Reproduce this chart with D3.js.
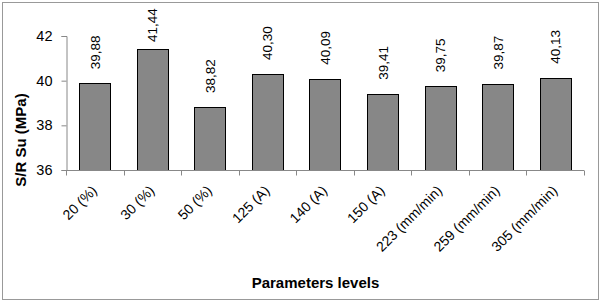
<!DOCTYPE html>
<html>
<head>
<meta charset="utf-8">
<script src="https://cdn.jsdelivr.net/npm/d3@7"></script>
<style>
  body { margin: 0; background: #fff; }
  text { font-family: Arial, "Liberation Sans", sans-serif; }
</style>
</head>
<body>
<script>
// data --------------------------------------------------------------
const levels = ["20 (%)", "30 (%)", "50 (%)", "125 (A)", "140 (A)", "150 (A)",
                "223 (mm/min)", "259 (mm/min)", "305 (mm/min)"];
const snValues = [39.88, 41.44, 38.82, 40.30, 40.09, 39.41, 39.75, 39.87, 40.13];
const yTicks = [36, 38, 40, 42];

const width = 602,
      height = 303,
      margin = { top: 36, right: 18, bottom: 133, left: 66 },
      barColor = "#878787";

const fmt = v => d3.format(".2f")(v).replace(".", ",");

const svg = d3.select("body")
  .append("svg")
  .attr("width", width)
  .attr("height", height);

// outer frame
svg.append("rect")
  .attr("x", 2.5).attr("y", 2.5)
  .attr("width", 596).attr("height", 297)
  .attr("fill", "#fff")
  .attr("stroke", "#999")
  .attr("stroke-width", 1);

const x = d3.scaleBand()
  .domain(levels)
  .range([margin.left, width - margin.right])
  .paddingInner(0.46)
  .paddingOuter(0.23);

const y = d3.scaleLinear()
  .domain([36, 42])
  .range([height - margin.bottom, margin.top]);

// bars
svg.append("g")
  .selectAll("rect")
  .data(snValues)
  .enter()
  .append("rect")
  .attr("x", (d, i) => Math.round(x(levels[i])) + 0.5)
  .attr("y", d => Math.round(y(d)) + 0.5)
  .attr("width", Math.round(x.bandwidth()))
  .attr("height", d => Math.round(y(36)) - Math.round(y(d)))
  .attr("fill", barColor)
  .attr("stroke", "#000")
  .attr("stroke-width", 1);

// value labels
svg.append("g")
  .selectAll("text")
  .data(snValues)
  .enter()
  .append("text")
  .attr("transform", (d, i) => {
    const cx = x(levels[i]) + x.bandwidth() / 2;
    const ty = Math.max(y(d) - 14, 42);
    return `translate(${cx + 5},${ty}) rotate(-90)`;
  })
  .attr("font-size", 13.5)
  .attr("fill", "#000")
  .text(d => fmt(d));

// y axis
const yAxis = svg.append("g")
  .attr("transform", `translate(${margin.left + 0.5},0)`)
  .call(d3.axisLeft(y).tickValues(yTicks).tickSize(5).tickPadding(9).tickFormat(d3.format("d")));
yAxis.selectAll("path, line").attr("stroke", "#888");
yAxis.selectAll("text").attr("font-size", 14.5).attr("fill", "#000");

// x axis: ticks at category boundaries
const xBase = Math.round(y(36)) + 0.5;
svg.append("line")
  .attr("x1", margin.left).attr("x2", width - margin.right)
  .attr("y1", xBase).attr("y2", xBase)
  .attr("stroke", "#888");

const step = x.step();
svg.append("g")
  .selectAll("line")
  .data(d3.range(levels.length + 1))
  .enter()
  .append("line")
  .attr("x1", i => Math.round(margin.left + i * step) + 0.5)
  .attr("x2", i => Math.round(margin.left + i * step) + 0.5)
  .attr("y1", xBase).attr("y2", xBase + 5)
  .attr("stroke", "#888");

// category labels (rotated 45 deg)
svg.append("g")
  .selectAll("text")
  .data(levels)
  .enter()
  .append("text")
  .attr("transform", d => `translate(${x(d) + x.bandwidth() / 2 + 3},${xBase + 21}) rotate(-45)`)
  .attr("text-anchor", "end")
  .attr("font-size", 14)
  .attr("fill", "#000")
  .text(d => d);

// axis titles
svg.append("text")
  .attr("transform", `translate(26,140) rotate(-90)`)
  .attr("text-anchor", "middle")
  .attr("font-size", 15)
  .attr("font-weight", "bold")
  .text("S/R Su (MPa)");

svg.append("text")
  .attr("x", 315.5)
  .attr("y", 288)
  .attr("text-anchor", "middle")
  .attr("font-size", 15)
  .attr("font-weight", "bold")
  .text("Parameters levels");
</script>
</body>
</html>
